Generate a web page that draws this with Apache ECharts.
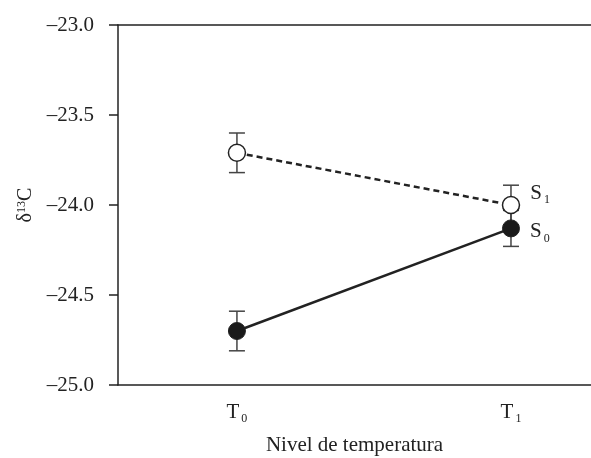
<!DOCTYPE html>
<html style="height: 100%">
<head>
    <meta charset="utf-8">
</head>
<body style="height: 100%; margin: 0; background: #fff">
<div id="container" style="width: 591px; height: 458px"></div>
<script type="text/javascript" src="https://cdn.jsdelivr.net/npm/echarts@6/dist/echarts.min.js"></script>
<script type="text/javascript">
// positions on the x axis: T0 = 0, T1 = 1
var levels = ['T0', 'T1'];
var levelPos = [0, 1];
var s0Mean = [-24.70, -24.13];
var s0Err = [0.11, 0.10];
var s1Mean = [-23.71, -24.00];
var s1Err = [0.11, 0.11];
var yTicks = [-25, -24.5, -24, -23.5, -23];

var dom = document.getElementById("container");
var myChart = echarts.init(dom);
var ink = '#222';
var serif = '"Liberation Serif", "DejaVu Serif", serif';

function pts(means) {
    var out = [];
    for (var i = 0; i < means.length; i++) out.push([levelPos[i], means[i]]);
    return out;
}
function errData(means, errs) {
    var out = [];
    for (var i = 0; i < means.length; i++) out.push([levelPos[i], means[i] - errs[i], means[i] + errs[i]]);
    return out;
}

function renderErr(params, api) {
    var lo = api.coord([api.value(0), api.value(1)]);
    var hi = api.coord([api.value(0), api.value(2)]);
    var w = 8;
    var st = { stroke: '#444', lineWidth: 1.5, fill: null };
    return {
        type: 'group',
        children: [
            { type: 'line', shape: { x1: lo[0], y1: lo[1], x2: hi[0], y2: hi[1] }, style: st },
            { type: 'line', shape: { x1: lo[0] - w, y1: lo[1], x2: lo[0] + w, y2: lo[1] }, style: st },
            { type: 'line', shape: { x1: hi[0] - w, y1: hi[1], x2: hi[0] + w, y2: hi[1] }, style: st }
        ]
    };
}

var subRich = {
    b: { fontFamily: serif, fontSize: 21, color: ink },
    s: { fontFamily: serif, fontSize: 12, color: ink, padding: [14, 0, 0, 2] }
};

option = {
    backgroundColor: '#fff',
    animation: false,
    grid: { left: 118, right: 0, top: 25, bottom: 73, outerBoundsMode: 'none' },
    xAxis: [{
        type: 'value',
        min: -0.434,
        max: 1.292,
        splitLine: { show: false },
        axisLine: { show: true, onZero: false, lineStyle: { color: ink, width: 1.5 } },
        axisTick: { show: false },
        axisLabel: {
            customValues: levelPos,
            margin: 14,
            formatter: function (v) {
                var i = levelPos.indexOf(v);
                return i < 0 ? '' : '{b|T}{s|' + levels[i].slice(1) + '}';
            },
            rich: subRich
        },
        name: 'Nivel de temperatura',
        nameLocation: 'middle',
        nameGap: 50,
        nameTextStyle: { fontFamily: serif, fontSize: 21, color: ink }
    }, {
        type: 'value',
        position: 'top',
        min: -0.434,
        max: 1.292,
        splitLine: { show: false },
        axisLine: { show: true, onZero: false, lineStyle: { color: ink, width: 1.5 } },
        axisTick: { show: false },
        axisLabel: { show: false }
    }],
    yAxis: {
        type: 'value',
        min: -25,
        max: -23,
        interval: 0.5,
        splitLine: { show: false },
        axisLine: { show: true, onZero: false, lineStyle: { color: ink, width: 1.5 } },
        axisTick: { show: true, length: 9, lineStyle: { color: ink, width: 1.5 } },
        axisLabel: {
            margin: 24,
            fontFamily: serif,
            fontSize: 21,
            color: ink,
            formatter: function (v) { return '\u2013' + Math.abs(v).toFixed(1); }
        },
        name: '{b|\u03b4}{s|13}{b|C}',
        nameLocation: 'middle',
        nameGap: 82,
        nameTextStyle: {
            rich: {
                b: { fontFamily: serif, fontSize: 20, color: ink },
                s: { fontFamily: serif, fontSize: 12, color: ink, padding: [0, 0, 8, 0] }
            }
        }
    },
    series: [{
        type: 'custom',
        renderItem: renderErr,
        data: errData(s0Mean, s0Err),
        z: 1, silent: true
    }, {
        type: 'custom',
        renderItem: renderErr,
        data: errData(s1Mean, s1Err),
        z: 1, silent: true
    }, {
        name: 'S1',
        type: 'line',
        data: pts(s1Mean),
        symbol: 'circle',
        symbolSize: 17,
        lineStyle: { color: ink, width: 2.5, type: [6, 4] },
        itemStyle: { color: '#fff', borderColor: ink, borderWidth: 1.5 },
        label: {
            show: true,
            position: 'right',
            distance: 10,
            offset: [0, -12],
            formatter: function (p) { return p.dataIndex === 1 ? '{b|S}{s|1}' : ''; },
            rich: subRich
        },
        z: 3
    }, {
        name: 'S0',
        type: 'line',
        data: pts(s0Mean),
        symbol: 'circle',
        symbolSize: 17,
        lineStyle: { color: ink, width: 2.5 },
        itemStyle: { color: '#1a1a1a', borderColor: ink, borderWidth: 1 },
        label: {
            show: true,
            position: 'right',
            distance: 10,
            offset: [0, 3],
            formatter: function (p) { return p.dataIndex === 1 ? '{b|S}{s|0}' : ''; },
            rich: subRich
        },
        z: 3
    }]
};

myChart.setOption(option);
</script>
</body>
</html>
